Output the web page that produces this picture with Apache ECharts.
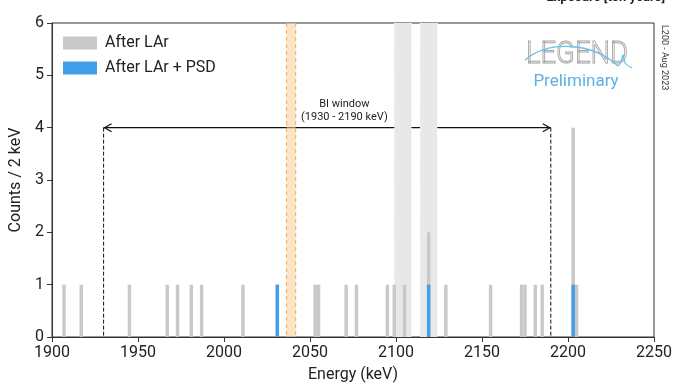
<!DOCTYPE html>
<html>
<head>
<meta charset="utf-8">
<script src="https://cdn.jsdelivr.net/npm/echarts@6/dist/echarts.min.js"></script>
<style>html,body{margin:0;padding:0;background:#fff}#c{width:673px;height:384px}</style>
</head>
<body>
<div id="c"></div>
<script>
// ---- data ----
const binWidth = 2; // keV
const afterLArBins   = [1906,1916,1944,1966,1972,1980,1986,2010,2030,2052,2054,2070,2076,2094,2098,2104,2118,2128,2154,2172,2174,2180,2184,2202,2204];
const afterLArCounts = [1,   1,   1,   1,   1,   1,   1,   1,   1,   1,   1,   1,   1,   1,   1,   1,   2,   1,   1,   1,   1,   1,   1,   4,   1];
const psdBins   = [2030,2118,2202];
const psdCounts = [1,   1,   1];
const vetoBands = [[2099,2109],[2114,2124]];
const qbbBand   = [[2036.3,2041.7]];
const biWindow  = [[1930,2190,4]];
const xTicks = [1900,1950,2000,2050,2100,2150,2200,2250];
const yTicks = [0,1,2,3,4,5,6];

const FONT = 'Roboto';
const chart = echarts.init(document.getElementById('c'), null, {renderer:'canvas'});

function barRender(color){
  return function(params, api){
    const lo = api.value(0), hi = api.value(1), c = api.value(2);
    const p0 = api.coord([lo, 0]);
    const p1 = api.coord([hi, c]);
    return {type:'rect', shape:{x:p0[0], y:p1[1], width:p1[0]-p0[0], height:p0[1]-p1[1]}, style:{fill:color}};
  };
}
function bandRender(fill, stroke){
  return function(params, api){
    const cs = params.coordSys;
    const a = api.coord([api.value(0), 0]);
    const b = api.coord([api.value(1), 0]);
    return {type:'group', children:[
      {type:'rect', shape:{x:a[0], y:cs.y, width:b[0]-a[0], height:cs.height}, style:{fill:fill}},
      {type:'line', shape:{x1:a[0], y1:cs.y, x2:a[0], y2:cs.y+cs.height}, style:{stroke:stroke, lineWidth:1, lineDash:[4,3]}},
      {type:'line', shape:{x1:b[0], y1:cs.y, x2:b[0], y2:cs.y+cs.height}, style:{stroke:stroke, lineWidth:1, lineDash:[4,3]}}
    ]};
  };
}
function arrowRender(params, api){
  const lo = api.value(0), hi = api.value(1), h = api.value(2);
  const a = api.coord([lo, h]), b = api.coord([hi, h]);
  const a0 = api.coord([lo, 0]), b0 = api.coord([hi, 0]);
  const mid = api.coord([2070, h]);
  const s = {stroke:'#111', lineWidth:1.2, fill:null};
  return {type:'group', children:[
    {type:'line', shape:{x1:a[0], y1:a[1], x2:b[0], y2:b[1]}, style:s},
    {type:'polyline', shape:{points:[[a[0]+8,a[1]-4],[a[0]+1,a[1]],[a[0]+8,a[1]+4]]}, style:s},
    {type:'polyline', shape:{points:[[b[0]-8,b[1]-4],[b[0]-1,b[1]],[b[0]-8,b[1]+4]]}, style:s},
    {type:'line', shape:{x1:a[0], y1:a[1], x2:a0[0], y2:a0[1]}, style:{stroke:'#111', lineWidth:1, lineDash:[4,2]}},
    {type:'line', shape:{x1:b[0], y1:b[1], x2:b0[0], y2:b0[1]}, style:{stroke:'#111', lineWidth:1, lineDash:[4,2]}},
    {type:'text', x:mid[0], y:mid[1]-4, style:{text:'BI window\n(1930 - 2190 keV)', font:'11px '+FONT, fill:'#222', align:'center', verticalAlign:'bottom', lineHeight:13}}
  ]};
}

const option = {
  backgroundColor:'#fff',
  animation:false,
  textStyle:{fontFamily:FONT},
  grid:{left:52, right:19, top:23, bottom:47, show:true, borderColor:'#333', borderWidth:1, backgroundColor:'transparent', containLabel:false, outerBoundsMode:'none'},
  legend:{
    left:63, top:35, padding:0, orient:'vertical', itemWidth:34, itemHeight:13, itemGap:9,
    icon:'rect',
    textStyle:{fontSize:16, color:'#222', fontFamily:FONT, padding:[0,0,0,3]},
    data:[{name:'After LAr', itemStyle:{color:'#c9c9c9'}},{name:'After LAr + PSD', itemStyle:{color:'#3f9fea'}}]
  },
  xAxis:{
    type:'value', min:xTicks[0], max:xTicks[xTicks.length-1], interval:50,
    name:'Energy (keV)', nameLocation:'middle', nameGap:30,
    nameTextStyle:{fontSize:16, color:'#222', fontFamily:FONT},
    axisLine:{show:true, lineStyle:{color:'#333', width:1}},
    axisTick:{show:true, inside:false, length:5, lineStyle:{color:'#333'}},
    axisLabel:{fontSize:16, color:'#222', margin:8, fontFamily:FONT, formatter:v=>String(v)},
    splitLine:{show:false}
  },
  yAxis:{
    type:'value', min:yTicks[0], max:yTicks[yTicks.length-1], interval:1,
    name:'Counts / 2 keV', nameLocation:'middle', nameGap:20,
    nameTextStyle:{fontSize:16, color:'#222', fontFamily:FONT},
    axisLine:{show:true, lineStyle:{color:'#333', width:1}},
    axisTick:{show:true, inside:false, length:5, lineStyle:{color:'#333'}},
    axisLabel:{fontSize:16, color:'#222', margin:8, fontFamily:FONT},
    splitLine:{show:false}
  },
  series:[
    {type:'custom', name:'bi', z:1, silent:true, renderItem:arrowRender, data:biWindow, encode:{x:[0,1], y:2}, clip:false},
    {type:'custom', name:'qbb', z:2, silent:true, renderItem:bandRender('rgba(252,205,150,0.55)','#f2a75a'), data:qbbBand, encode:{x:[0,1]}},
    {type:'custom', name:'veto', z:2, silent:true, renderItem:bandRender('#e8e8e8','#f6f6f6'), data:vetoBands, encode:{x:[0,1]}},
    {type:'custom', name:'After LAr', z:3, itemStyle:{color:'#c9c9c9'}, renderItem:barRender('#c9c9c9'),
      data:afterLArBins.map((b,i)=>[b, b+binWidth, afterLArCounts[i]]), encode:{x:[0,1], y:2}},
    {type:'custom', name:'After LAr + PSD', z:4, itemStyle:{color:'#3f9fea'}, renderItem:barRender('#3f9fea'),
      data:psdBins.map((b,i)=>[b, b+binWidth, psdCounts[i]]), encode:{x:[0,1], y:2}}
  ],
  graphic:[
    {type:'text', x:665, y:-9, style:{text:'Exposure [ton years]', font:'bold 13px '+FONT, fill:'#222', align:'right', verticalAlign:'top'}},
    {type:'text', x:664, y:25, rotation:-Math.PI/2, style:{text:'L200 - Aug 2023', font:'9px '+FONT, fill:'#333', align:'left', verticalAlign:'middle'}},
    {type:'text', x:577, y:55, scaleX:0.86, originX:0, originY:0, style:{text:'LEGEND', font:'300 32px '+FONT, fill:'rgba(255,255,255,0)', stroke:'#a4a4a4', lineWidth:1, align:'center', verticalAlign:'middle'}},
    {type:'bezierCurve', shape:{x1:525, y1:60, cpx1:548, cpy1:40, cpx2:592, cpy2:42, x2:618, y2:66}, style:{stroke:'#6cbfe6', lineWidth:1.3, fill:null}},
    {type:'polyline', shape:{points:[[618,66],[621,62],[623,55],[625,63],[632,68]], smooth:0.3}, style:{stroke:'#6cbfe6', lineWidth:1.3, fill:null}},
    {type:'text', x:576, y:82, style:{text:'Preliminary', font:'17px '+FONT, fill:'#5ab2e0', align:'center', verticalAlign:'middle'}}
  ]
};
chart.setOption(option);
</script>
</body>
</html>
